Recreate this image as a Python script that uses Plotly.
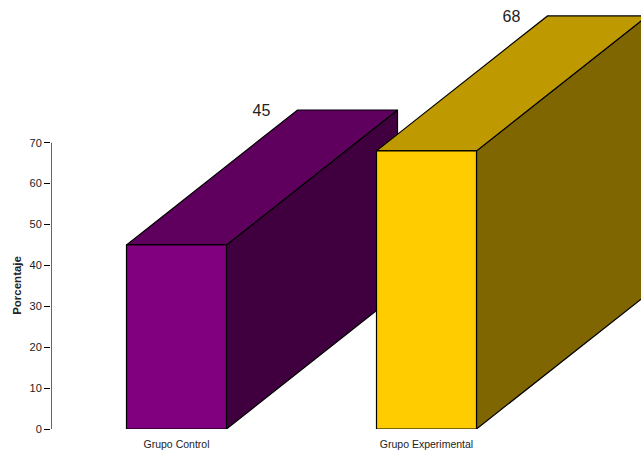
import plotly.graph_objects as go

categories = ["Grupo Control", "Grupo Experimental"]
values = [45, 68]
positions = [1.0, 3.5]
front_colors = ["#800080", "#FFCC00"]
top_colors = ["#5F005F", "#BF9900"]
side_colors = ["#400040", "#806600"]
y_ticks = [0, 10, 20, 30, 40, 50, 60, 70]

BAR_W = 1.0
DEPTH_X = 1.71
DEPTH_Y = 33.0
LABEL_DROP = 0.4
LINE = dict(color="#000000", width=1.2)

fig = go.Figure()


def face(xs, ys, color):
    fig.add_trace(go.Scatter(
        x=xs + xs[:1], y=ys + ys[:1], mode="lines", fill="toself",
        fillcolor=color, line=LINE, hoverinfo="skip", showlegend=False,
        cliponaxis=False))


for pos, val, fc, tc, sc in zip(positions, values, front_colors, top_colors, side_colors):
    l, r = pos - BAR_W / 2, pos + BAR_W / 2
    face([r, r + DEPTH_X, r + DEPTH_X, r], [0, DEPTH_Y, val + DEPTH_Y, val], sc)
    face([l, l + DEPTH_X, r + DEPTH_X, r], [val, val + DEPTH_Y, val + DEPTH_Y, val], tc)
    face([l, r, r, l], [0, 0, val, val], fc)
    fig.add_trace(go.Scatter(
        x=[l + DEPTH_X - 0.36], y=[val + DEPTH_Y - LABEL_DROP], mode="text", text=[str(val)],
        textposition="middle center", textfont=dict(size=16, color="#222222"),
        hoverinfo="skip", showlegend=False, cliponaxis=False))

# value axis stops at its last tick, below the top of the plot area
fig.add_trace(go.Scatter(
    x=[-0.255, -0.255], y=[y_ticks[0], y_ticks[-1]], mode="lines", line=LINE,
    hoverinfo="skip", showlegend=False, cliponaxis=False))

fig.update_layout(
    width=641, height=450,
    margin=dict(l=51, r=0, t=0, b=21, autoexpand=False),
    paper_bgcolor="#FFFFFF", plot_bgcolor="#FFFFFF",
    font=dict(family="Liberation Sans, Arial, sans-serif", color="#222222"),
    showlegend=False,
    xaxis=dict(
        range=[-0.255, 5.645], showgrid=False, zeroline=False, showline=False,
        tickmode="array", tickvals=positions, ticktext=categories,
        ticks="", ticklabelstandoff=7, tickfont=dict(size=10.5, color="#222222"),
    ),
    yaxis=dict(
        range=[0, 104.89], showgrid=False, zeroline=False, showline=False,
        tickmode="array", tickvals=y_ticks, ticks="outside", ticklen=6,
        tickcolor="#000000", tickwidth=1, tickfont=dict(size=11, color="#222222"),
    ),
    annotations=[dict(
        text="<b>Porcentaje</b>", xref="paper", yref="y", x=0, y=35,
        xanchor="center", yanchor="middle",
        xshift=-34, showarrow=False, textangle=-90,
        font=dict(size=11.5, color="#222222"),
    )],
)

fig.write_html(
    "out.html",
    config={"displayModeBar": False},
    post_script="document.body.style.margin='0';",
)
